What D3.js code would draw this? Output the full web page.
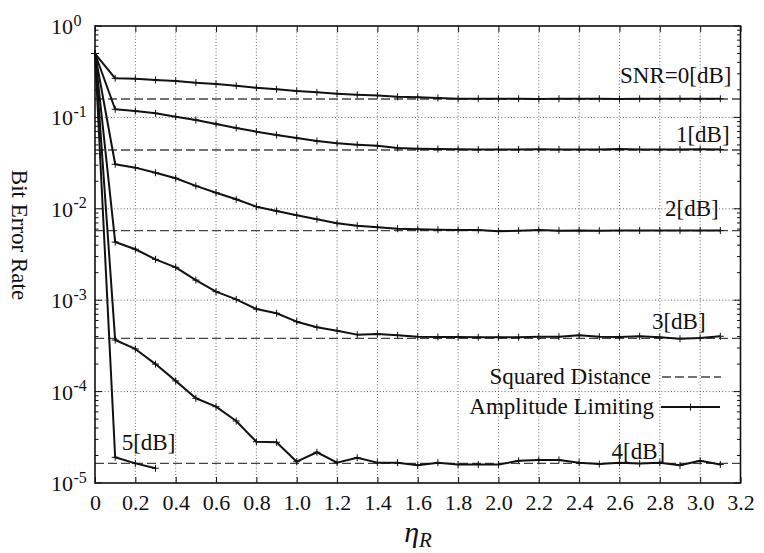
<!DOCTYPE html>
<html>
<head>
<meta charset="utf-8">
<script src="https://cdn.jsdelivr.net/npm/d3@7"></script>
<style>
  body { margin: 0; background: #fff; }
  svg { display: block; }
  text { font-family: "Liberation Serif", "Times New Roman", serif; fill: #111; }
</style>
</head>
<body>
<svg id="chart" width="764" height="553"></svg>
<script>
// Clipping ratio values on the horizontal axis
const eta = [0, 0.1, 0.2, 0.3, 0.4, 0.5, 0.6, 0.7, 0.8, 0.9, 1.0, 1.1, 1.2, 1.3, 1.4, 1.5,
             1.6, 1.7, 1.8, 1.9, 2.0, 2.1, 2.2, 2.3, 2.4, 2.5, 2.6, 2.7, 2.8, 2.9, 3.0, 3.1];

// Bit error rate with amplitude limiting, one array per SNR
const berSnr0 = [0.5, 0.268, 0.265, 0.257, 0.250, 0.240, 0.232, 0.222, 0.211, 0.203, 0.194, 0.188,
                 0.182, 0.177, 0.174, 0.168, 0.166, 0.163, 0.160, 0.160, 0.160, 0.160, 0.159, 0.160,
                 0.160, 0.160, 0.159, 0.160, 0.160, 0.160, 0.160, 0.160];
const berSnr1 = [0.5, 0.1227, 0.1175, 0.1109, 0.1018, 0.0937, 0.0848, 0.0766, 0.0698, 0.0642, 0.0595,
                 0.0552, 0.0521, 0.0503, 0.0490, 0.0463, 0.0455, 0.0451, 0.0447, 0.0446, 0.0446,
                 0.0446, 0.0447, 0.0446, 0.0446, 0.0446, 0.0452, 0.0446, 0.0446, 0.0446, 0.0447, 0.0446];
const berSnr2 = [0.5, 0.0307, 0.0282, 0.0248, 0.0216, 0.0178, 0.0150, 0.0127, 0.01055, 0.00946,
                 0.00849, 0.00768, 0.00694, 0.00653, 0.00628, 0.00606, 0.00597, 0.00591, 0.00586,
                 0.00586, 0.00567, 0.00576, 0.00586, 0.00576, 0.00580, 0.00576, 0.00578, 0.00578,
                 0.00578, 0.00578, 0.00578, 0.00578];
const berSnr3 = [0.5, 4.33e-3, 3.61e-3, 2.80e-3, 2.29e-3, 1.66e-3, 1.24e-3, 1.02e-3, 8.01e-4, 7.19e-4,
                 5.82e-4, 5.06e-4, 4.64e-4, 4.20e-4, 4.27e-4, 4.13e-4, 3.99e-4, 3.96e-4, 3.96e-4,
                 3.93e-4, 3.93e-4, 3.93e-4, 3.99e-4, 3.99e-4, 4.13e-4, 3.99e-4, 3.96e-4, 4.03e-4,
                 3.93e-4, 3.79e-4, 3.86e-4, 4.03e-4];
const berSnr4 = [0.5, 3.67e-4, 2.93e-4, 2.00e-4, 1.31e-4, 8.45e-5, 6.84e-5, 4.77e-5, 2.83e-5, 2.79e-5,
                 1.71e-5, 2.17e-5, 1.67e-5, 1.89e-5, 1.67e-5, 1.67e-5, 1.56e-5, 1.67e-5, 1.59e-5,
                 1.59e-5, 1.59e-5, 1.75e-5, 1.79e-5, 1.79e-5, 1.67e-5, 1.61e-5, 1.67e-5, 1.63e-5,
                 1.67e-5, 1.56e-5, 1.75e-5, 1.59e-5];
const berSnr5 = [0.5, 1.91e-5, 1.64e-5, 1.45e-5];

// Squared-distance reference levels for SNR = 0..4 dB
const squaredDistance = [0.159, 0.044, 0.00576, 3.83e-4, 1.64e-5];

// Curve labels and where they sit (data coordinates of the text start / baseline)
const curveLabels = ["SNR=0[dB]", "1[dB]", "2[dB]", "3[dB]", "4[dB]", "5[dB]"];
const labelEta = [2.603, 2.880, 2.826, 2.761, 2.561, 0.132];
const labelBer = [0.238, 0.0542, 0.00834, 4.8e-4, 1.83e-5, 2.3e-5];

// Axis ticks
const xTickValues = [0, 0.2, 0.4, 0.6, 0.8, 1.0, 1.2, 1.4, 1.6, 1.8, 2.0, 2.2, 2.4, 2.6, 2.8, 3.0, 3.2];
const xTickLabels = ["0", "0.2", "0.4", "0.6", "0.8", "1.0", "1.2", "1.4", "1.6", "1.8", "2.0",
                     "2.2", "2.4", "2.6", "2.8", "3.0", "3.2"];
const yTickExponents = [0, -1, -2, -3, -4, -5];

const legendNames = ["Squared Distance", "Amplitude Limiting"];

// ---- layout ----
const W = 764, H = 553;
const plot = { left: 95, right: 740.5, top: 26, bottom: 483 };

const svg = d3.select("#chart");
const x = d3.scaleLinear().domain([0, 3.2]).range([plot.left, plot.right]);
const y = d3.scaleLog().domain([1e-5, 1]).range([plot.bottom, plot.top]);

const ink = "#111";

// dotted grid
const grid = svg.append("g").attr("stroke", "#555").attr("stroke-width", 0.9)
  .attr("stroke-dasharray", "1,2.2");
grid.selectAll("line.gx").data(xTickValues.filter(v => v > 0 && v < 3.2)).join("line")
  .attr("x1", d => x(d)).attr("x2", d => x(d))
  .attr("y1", plot.top).attr("y2", plot.bottom);
grid.selectAll("line.gy").data(yTickExponents.filter(e => e < 0 && e > -5)).join("line")
  .attr("x1", plot.left).attr("x2", plot.right)
  .attr("y1", d => y(Math.pow(10, d))).attr("y2", d => y(Math.pow(10, d)));

// axes with inward ticks
const bottomAxis = d3.axisBottom(x).tickValues(xTickValues)
  .tickFormat((d, i) => xTickLabels[i]).tickSizeInner(-6).tickSizeOuter(0).tickPadding(11);
const gB = svg.append("g").attr("transform", `translate(0,${plot.bottom})`).call(bottomAxis);
gB.select(".domain").remove();
gB.selectAll(".tick line").attr("stroke", ink).attr("stroke-width", 1);
gB.selectAll(".tick text").attr("font-size", 22).attr("fill", ink);

const topAxis = d3.axisTop(x).tickValues(xTickValues).tickFormat("")
  .tickSizeInner(-6).tickSizeOuter(0);
const gT = svg.append("g").attr("transform", `translate(0,${plot.top})`).call(topAxis);
gT.select(".domain").remove();
gT.selectAll(".tick line").attr("stroke", ink).attr("stroke-width", 1);

// log ticks: major at decades, minor at 2..9
const minorVals = [];
yTickExponents.slice(1).forEach(e => {
  for (let k = 2; k <= 9; k++) minorVals.push(k * Math.pow(10, e));
});
const yTicks = svg.append("g").attr("stroke", ink).attr("stroke-width", 1);
[[plot.left, 1], [plot.right, -1]].forEach(([x0, dir]) => {
  yTicks.append("g").selectAll("line").data(yTickExponents).join("line")
    .attr("x1", x0).attr("x2", x0 + dir * 7)
    .attr("y1", d => y(Math.pow(10, d))).attr("y2", d => y(Math.pow(10, d)));
  yTicks.append("g").selectAll("line").data(minorVals).join("line")
    .attr("x1", x0).attr("x2", x0 + dir * 3.5)
    .attr("y1", d => y(d)).attr("y2", d => y(d));
});

// y tick labels as powers of ten
const yLab = svg.append("g");
yTickExponents.forEach(e => {
  const yy = y(Math.pow(10, e));
  yLab.append("text").attr("x", 73).attr("y", yy + 8).attr("text-anchor", "end")
    .attr("font-size", 22).text("10");
  yLab.append("text").attr("x", 73.5).attr("y", yy - 0.5).attr("text-anchor", "start")
    .attr("font-size", 16).text(e === 0 ? "0" : "-" + Math.abs(e));
});

// squared-distance reference lines
svg.append("g").selectAll("line").data(squaredDistance).join("line")
  .attr("x1", plot.left).attr("x2", plot.right)
  .attr("y1", d => y(d)).attr("y2", d => y(d))
  .attr("stroke", "#444").attr("stroke-width", 1.3).attr("stroke-dasharray", "9,4");

// amplitude limiting curves
const series = [berSnr0, berSnr1, berSnr2, berSnr3, berSnr4, berSnr5];
const line = d3.line().x(d => x(d[0])).y(d => y(d[1]));
const curves = svg.append("g");
series.forEach(vals => {
  const pts = vals.map((v, i) => [eta[i], v]);
  curves.append("path").datum(pts).attr("d", line)
    .attr("fill", "none").attr("stroke", ink).attr("stroke-width", 2)
    .attr("stroke-linejoin", "round");
  const m = curves.append("g").attr("stroke", ink).attr("stroke-width", 1);
  m.selectAll("path").data(pts).join("path")
    .attr("d", d => `M${x(d[0]) - 3.5},${y(d[1])}h7M${x(d[0])},${y(d[1]) - 3.5}v7`);
});

// curve labels
svg.append("g").selectAll("text").data(curveLabels).join("text")
  .attr("x", (d, i) => x(labelEta[i])).attr("y", (d, i) => y(labelBer[i]))
  .attr("font-size", 23).text(d => d);

// legend
const lg = svg.append("g");
const legY = [377, 407];
lg.append("text").attr("x", 651).attr("y", legY[0] + 7).attr("text-anchor", "end")
  .attr("font-size", 23).text(legendNames[0]);
lg.append("line").attr("x1", 662).attr("x2", 721).attr("y1", legY[0]).attr("y2", legY[0])
  .attr("stroke", "#444").attr("stroke-width", 1.3).attr("stroke-dasharray", "9,4");
lg.append("text").attr("x", 654).attr("y", legY[1] + 7).attr("text-anchor", "end")
  .attr("font-size", 23).text(legendNames[1]);
lg.append("line").attr("x1", 661).attr("x2", 720).attr("y1", legY[1]).attr("y2", legY[1])
  .attr("stroke", ink).attr("stroke-width", 2);
lg.append("path").attr("d", `M687,${legY[1]}h7M690.5,${legY[1] - 3.5}v7`)
  .attr("stroke", ink).attr("stroke-width", 1);

// frame
svg.append("rect").attr("x", plot.left).attr("y", plot.top)
  .attr("width", plot.right - plot.left).attr("height", plot.bottom - plot.top)
  .attr("fill", "none").attr("stroke", ink).attr("stroke-width", 1.6);

// axis titles
svg.append("text").attr("transform", `translate(12,235) rotate(90)`)
  .attr("text-anchor", "middle").attr("font-size", 23).text("Bit Error Rate");
const xt = svg.append("text").attr("x", 418).attr("y", 542).attr("text-anchor", "middle");
xt.append("tspan").attr("font-style", "italic").attr("font-size", 30).text("η");
xt.append("tspan").attr("font-style", "italic").attr("font-size", 21).attr("dy", 5).text("R");
</script>
</body>
</html>
